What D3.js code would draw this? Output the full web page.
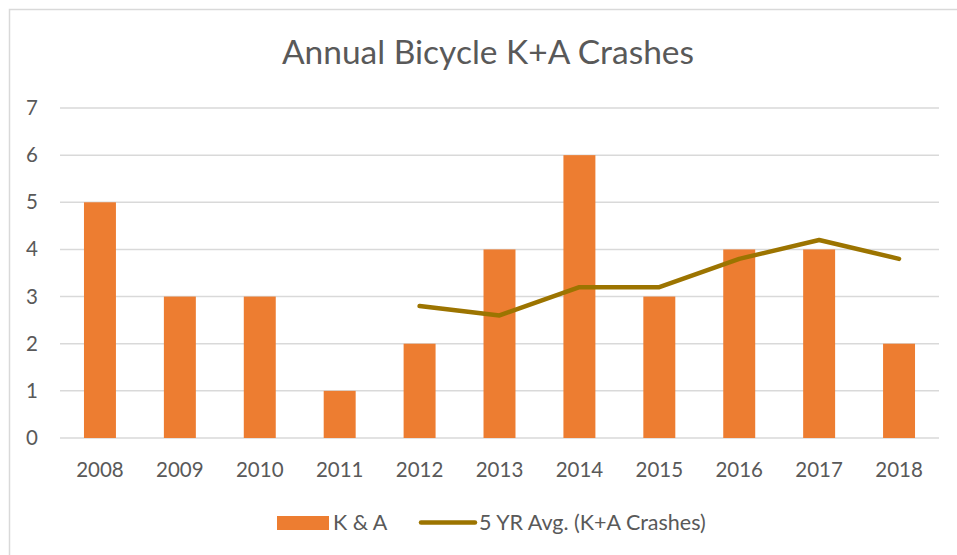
<!DOCTYPE html>
<html>
<head>
<meta charset="utf-8">
<script src="https://cdn.jsdelivr.net/npm/d3@7"></script>
<style>
  body { margin: 0; background: #fff; }
  text { font-family: Lato, "Open Sans", sans-serif; fill: #595959; }
</style>
</head>
<body>
<div id="chart"></div>
<script>
// data
const years = ["2008","2009","2010","2011","2012","2013","2014","2015","2016","2017","2018"];
const crashes = [5, 3, 3, 1, 2, 4, 6, 3, 4, 4, 2];
const avgYears = ["2012","2013","2014","2015","2016","2017","2018"];
const avgValues = [2.8, 2.6, 3.2, 3.2, 3.8, 4.2, 3.8];
const yTicks = [0, 1, 2, 3, 4, 5, 6, 7];

const width = 957, height = 555;
const margin = {top: 108, bottom: 117, left: 60, right: 18};

const svg = d3.select("#chart").append("svg")
  .attr("width", width)
  .attr("height", height);

// chart border (extends past the visible window on right/bottom)
svg.append("rect")
  .attr("x", 9.5).attr("y", 9.5)
  .attr("width", 960).attr("height", 560)
  .attr("fill", "#fff")
  .attr("stroke", "#d9d9d9")
  .attr("stroke-width", 1.5);

svg.append("text")
  .attr("x", 488).attr("y", 64)
  .attr("text-anchor", "middle")
  .style("font-size", "33.5px")
  .text("Annual Bicycle K+A Crashes");

const xScale = d3.scaleBand()
  .domain(years)
  .range([margin.left, width - margin.right])
  .paddingInner(0.6)
  .paddingOuter(0.3);

const yScale = d3.scaleLinear()
  .domain([0, 7])
  .range([height - margin.bottom, margin.top]);

// gridlines
svg.append("g")
  .selectAll("line")
  .data(yTicks)
  .join("line")
  .attr("x1", margin.left).attr("x2", width - margin.right)
  .attr("y1", d => yScale(d)).attr("y2", d => yScale(d))
  .attr("stroke", "#d9d9d9")
  .attr("stroke-width", 1.5);

// y labels
svg.append("g")
  .selectAll("text")
  .data(yTicks)
  .join("text")
  .attr("x", 38)
  .attr("y", d => yScale(d) + 7)
  .attr("text-anchor", "end")
  .style("font-size", "20.5px")
  .text(d => d);

// x labels
svg.append("g")
  .selectAll("text")
  .data(years)
  .join("text")
  .attr("x", d => xScale(d) + xScale.bandwidth() / 2)
  .attr("y", 477)
  .attr("text-anchor", "middle")
  .style("font-size", "20.5px")
  .text(d => d);

// bars
svg.append("g")
  .selectAll("rect")
  .data(crashes)
  .join("rect")
  .attr("x", (d, i) => xScale(years[i]))
  .attr("y", d => yScale(d))
  .attr("width", xScale.bandwidth())
  .attr("height", d => yScale(0) - yScale(d))
  .attr("fill", "#ed7d31");

// 5 yr average line
const line = d3.line()
  .x((d, i) => xScale(avgYears[i]) + xScale.bandwidth() / 2)
  .y(d => yScale(d));

svg.append("path")
  .datum(avgValues)
  .attr("d", line)
  .attr("fill", "none")
  .attr("stroke", "#9c7400")
  .attr("stroke-width", 4.5)
  .attr("stroke-linecap", "round")
  .attr("stroke-linejoin", "round");

// legend
const legend = svg.append("g");
legend.append("rect")
  .attr("x", 277).attr("y", 516)
  .attr("width", 52).attr("height", 14)
  .attr("fill", "#ed7d31");
legend.append("text")
  .attr("x", 333).attr("y", 529.5)
  .style("font-size", "21.5px")
  .text("K & A");
legend.append("line")
  .attr("x1", 421).attr("x2", 475)
  .attr("y1", 522.5).attr("y2", 522.5)
  .attr("stroke", "#9c7400")
  .attr("stroke-width", 4.5)
  .attr("stroke-linecap", "round");
legend.append("text")
  .attr("x", 479).attr("y", 529.5)
  .style("font-size", "21.5px")
  .text("5 YR Avg. (K+A Crashes)");
</script>
</body>
</html>
